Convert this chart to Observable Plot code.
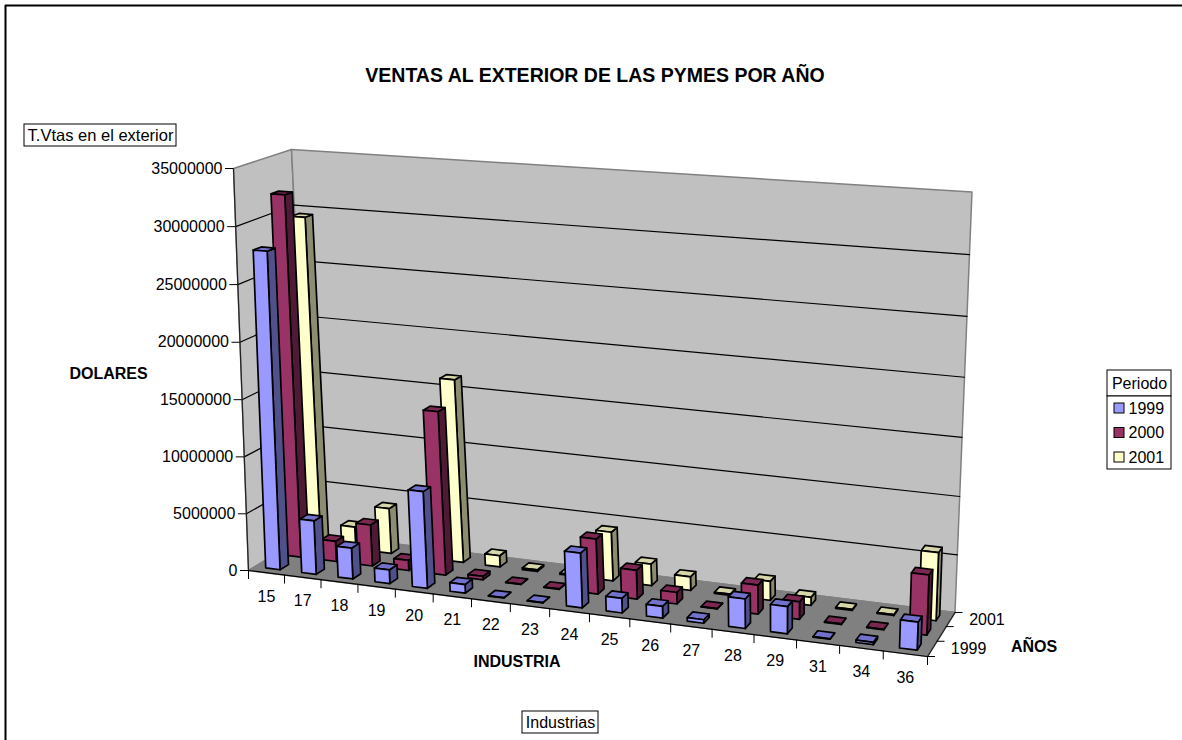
<!DOCTYPE html>
<html lang="es">
<head>
<meta charset="utf-8">
<title>Ventas al exterior de las PYMES por año</title>
<script src="https://cdn.jsdelivr.net/npm/d3@7"></script>
<script src="https://cdn.jsdelivr.net/npm/@observablehq/plot@0.6"></script>
<style>
  html, body { margin: 0; padding: 0; background: #fff; overflow: hidden; }
  svg { display: block; }
</style>
</head>
<body>
<div id="chart"></div>
<script>
// Ventas por industria (CIIU) y período, en dólares
const industrias = ["15","17","18","19","20","21","22","23","24","25","26","27","28","29","31","34","36"];
const periodos = ["1999","2000","2001"];
const ventas1999 = [27850000,4700000,2700000,1200000,8400000,750000,30000,30000,4700000,1250000,1000000,300000,2500000,2300000,30000,200000,2350000];
const ventas2000 = [32100000,1800000,3650000,900000,14350000,300000,30000,30000,4800000,2500000,1000000,30000,2500000,1500000,50000,50000,5100000];
const ventas2001 = [29500000,2000000,4050000,1300000,16250000,1000000,150000,100000,4300000,1900000,1200000,100000,1650000,700000,80000,80000,5850000];
const ticksValor = [0,5000000,10000000,15000000,20000000,25000000,30000000,35000000];
const seriesVentas = [ventas1999, ventas2000, ventas2001];

// Colores por período: frente, lateral y tapa de cada barra
const colorFrente = ["#9999ff","#993366","#ffffcc"];
const colorLateral = ["#50508a","#4f1a35","#8c8c70"];
const colorTapa = ["#7272cc","#7a2851","#d6d6a8"];

const W = 1182, H = 740, valorMax = 35000000;

// Proyección en perspectiva de la caja: (u, v) en el piso y en el techo, w en altura
function cuadrilatero(p0, p1, p2, p3) {
  const dx1 = p1[0]-p2[0], dx2 = p3[0]-p2[0], sx = p0[0]-p1[0]+p2[0]-p3[0];
  const dy1 = p1[1]-p2[1], dy2 = p3[1]-p2[1], sy = p0[1]-p1[1]+p2[1]-p3[1];
  const den = dx1*dy2-dx2*dy1;
  const g = (sx*dy2-dx2*sy)/den, h = (dx1*sy-sx*dy1)/den;
  const a = p1[0]-p0[0]+g*p1[0], b = p3[0]-p0[0]+h*p3[0];
  const d = p1[1]-p0[1]+g*p1[1], e = p3[1]-p0[1]+h*p3[1];
  return (u, v) => {
    const k = g*u+h*v+1;
    return [(a*u+b*v+p0[0])/k, (d*u+e*v+p0[1])/k];
  };
}
const piso = cuadrilatero([248,570],[927,656],[954.5,612],[310,533]);
const techo = cuadrilatero([233,168],[945,216],[971.5,191.5],[291,149]);
// Escorzo: razón proyectiva de una coordenada normalizada
const escorzo = (t, c) => t / (c + (1 - c) * t);
function proyectar(u, v, w) {
  const ue = escorzo(u, 1.05);
  const we = escorzo(w, 1.015 + 0.035 * ue);
  const a = piso(ue, v), b = techo(ue, v);
  return [a[0]+(b[0]-a[0])*we, a[1]+(b[1]-a[1])*we];
}

// Caras poligonales: cada una es una línea cerrada con su propio relleno
function cara(lista, id, esquinas, fill, stroke) {
  for (const c of [...esquinas, esquinas[0]]) {
    const [x, y] = proyectar(...c);
    lista.push({id, x, y, fill, stroke});
  }
}
function segmento(id, a, b, stroke) {
  for (const c of [a, b]) {
    const [x, y] = proyectar(...c);
    segmentos.push({id, x, y, stroke});
  }
}

// Paredes y piso
const paredes = [];
cara(paredes, "pared-izq", [[0,0,0],[0,0,1],[0,1,1],[0,1,0]], "#c0c0c0", "#808080");
cara(paredes, "pared-fondo", [[0,1,0],[0,1,1],[1,1,1],[1,1,0]], "#c0c0c0", "#808080");
cara(paredes, "piso", [[0,0,0],[1,0,0],[1,1,0],[0,1,0]], "#808080", "#808080");

// Líneas de división sobre las paredes y bordes oscuros
const segmentos = [];
ticksValor.slice(1, -1).forEach(t => {
  const w = t / valorMax;
  segmento(`gi${t}`, [0,0,w], [0,1,w], "#000");
  segmento(`gf${t}`, [0,1,w], [1,1,w], "#000");
});
segmento("borde-izq", [0,0,0], [0,0,1], "#222");
segmento("borde-frente", [0,0,0], [1,0,0], "#000");
segmento("borde-der", [1,0,0], [1,1,0], "#222");

// Barras: del fondo hacia adelante y de izquierda a derecha
const barras = [];
const n = industrias.length;
for (let s = periodos.length - 1; s >= 0; --s) {
  seriesVentas[s].forEach((valor, i) => {
    const u0 = (i + 0.3) / n, u1 = (i + 0.7) / n;
    const v0 = (s + 0.3) / 3, v1 = (s + 0.7) / 3;
    const w = valor / valorMax;
    const id = `${s}-${i}`;
    cara(barras, `${id}l`, [[u1,v0,0],[u1,v1,0],[u1,v1,w],[u1,v0,w]], colorLateral[s], "#000");
    cara(barras, `${id}t`, [[u0,v0,w],[u1,v0,w],[u1,v1,w],[u0,v1,w]], colorTapa[s], "#000");
    cara(barras, `${id}f`, [[u0,v0,0],[u1,v0,0],[u1,v0,w],[u0,v0,w]], colorFrente[s], "#000");
  });
}

// Marcas y rótulos de los tres ejes
const marcasValor = ticksValor.map(t => {
  const [x, y] = proyectar(0, 0, t / valorMax);
  return {x, y, etiqueta: String(t)};
});
const marcasIndustria = d3.range(n + 1).map(i => {
  const [x, y] = proyectar(i / n, 0, 0);
  return {x, y};
});
const rotulosIndustria = industrias.map((etiqueta, i) => {
  const [x, y] = proyectar((i + 0.5) / n, 0, 0);
  return {x, y, etiqueta};
});
const marcasPeriodo = d3.range(4).map(i => {
  const [x, y] = proyectar(1, i / 3, 0);
  return {x, y};
});
const rotulosPeriodo = [0, 2].map(s => {
  const [x, y] = proyectar(1, (s + 0.5) / 3, 0);
  return {x, y, etiqueta: periodos[s]};
});

// Cajas de texto y leyenda
const cajas = [
  {x1: 24, x2: 176, y1: 124, y2: 146},
  {x1: 522, x2: 598, y1: 711, y2: 733},
  {x1: 1107, x2: 1171, y1: 370, y2: 396},
  {x1: 1107, x2: 1171, y1: 396, y2: 469}
];
const leyenda = periodos.map((etiqueta, s) => ({etiqueta, s, y: 408 + s * 24.5}));
const fuente = "Liberation Sans, Arial, sans-serif";

const grafico = Plot.plot({
  width: W,
  height: H,
  margin: 0,
  x: {domain: [0, W], range: [0, W], axis: null},
  y: {domain: [0, H], range: [0, H], axis: null},
  color: {type: "identity"},
  style: {fontFamily: fuente, background: "#fff", color: "#000"},
  marks: [
    // marco exterior del gráfico
    Plot.ruleY([5], {x1: 5, x2: W, stroke: "#000", strokeWidth: 2}),
    Plot.ruleX([5], {y1: 5, y2: H, stroke: "#000", strokeWidth: 2}),

    Plot.line(paredes, {x: "x", y: "y", z: "id", fill: "fill", stroke: "stroke", strokeWidth: 1.5}),
    Plot.line(segmentos, {x: "x", y: "y", z: "id", stroke: "stroke", strokeWidth: 1.2}),
    Plot.line(barras, {x: "x", y: "y", z: "id", fill: "fill", stroke: "stroke", strokeWidth: 1.7}),

    // eje de valores
    Plot.ruleY(marcasValor, {y: "y", x1: d => d.x - 8, x2: "x", stroke: "#000", strokeWidth: 1}),
    Plot.text(marcasValor, {x: d => d.x - 11, y: "y", text: "etiqueta", textAnchor: "end", fontSize: 16}),

    // eje de industrias
    Plot.ruleX(marcasIndustria, {x: "x", y1: "y", y2: d => d.y + 9, stroke: "#000", strokeWidth: 1}),
    Plot.text(rotulosIndustria, {x: "x", y: d => d.y + 24, text: "etiqueta", fontSize: 16}),

    // eje de períodos
    Plot.ruleY(marcasPeriodo, {y: "y", x1: "x", x2: d => d.x + 8, stroke: "#000", strokeWidth: 1}),
    Plot.text(rotulosPeriodo, {x: d => d.x + 18.5, y: "y", text: "etiqueta", textAnchor: "start", fontSize: 16}),

    // títulos
    Plot.text(["VENTAS AL EXTERIOR DE LAS PYMES POR AÑO"], {x: 594.5, y: 75, text: d => d, fontSize: 19.5, fontWeight: "bold"}),
    Plot.text(["DOLARES"], {x: 108, y: 373, text: d => d, fontSize: 16, fontWeight: "bold"}),
    Plot.text(["INDUSTRIA"], {x: 516.5, y: 661, text: d => d, fontSize: 16, fontWeight: "bold"}),
    Plot.text(["AÑOS"], {x: 1033.5, y: 646, text: d => d, fontSize: 16, fontWeight: "bold"}),

    // cajas de texto y leyenda
    Plot.rect(cajas, {x1: "x1", x2: "x2", y1: "y1", y2: "y2", fill: "#fff", stroke: "#000", strokeWidth: 1}),
    Plot.text(["T.Vtas en el exterior"], {x: 100, y: 135, text: d => d, fontSize: 16.5}),
    Plot.text(["Industrias"], {x: 560, y: 722, text: d => d, fontSize: 16}),
    Plot.text(["Periodo"], {x: 1139, y: 383, text: d => d, fontSize: 16}),
    Plot.rect(leyenda, {x1: 1114, x2: 1124, y1: d => d.y - 5, y2: d => d.y + 5, fill: d => colorFrente[d.s], stroke: "#000", strokeWidth: 1}),
    Plot.text(leyenda, {x: 1128, y: "y", text: "etiqueta", textAnchor: "start", fontSize: 16})
  ]
});
document.getElementById("chart").append(grafico);
</script>
</body>
</html>
